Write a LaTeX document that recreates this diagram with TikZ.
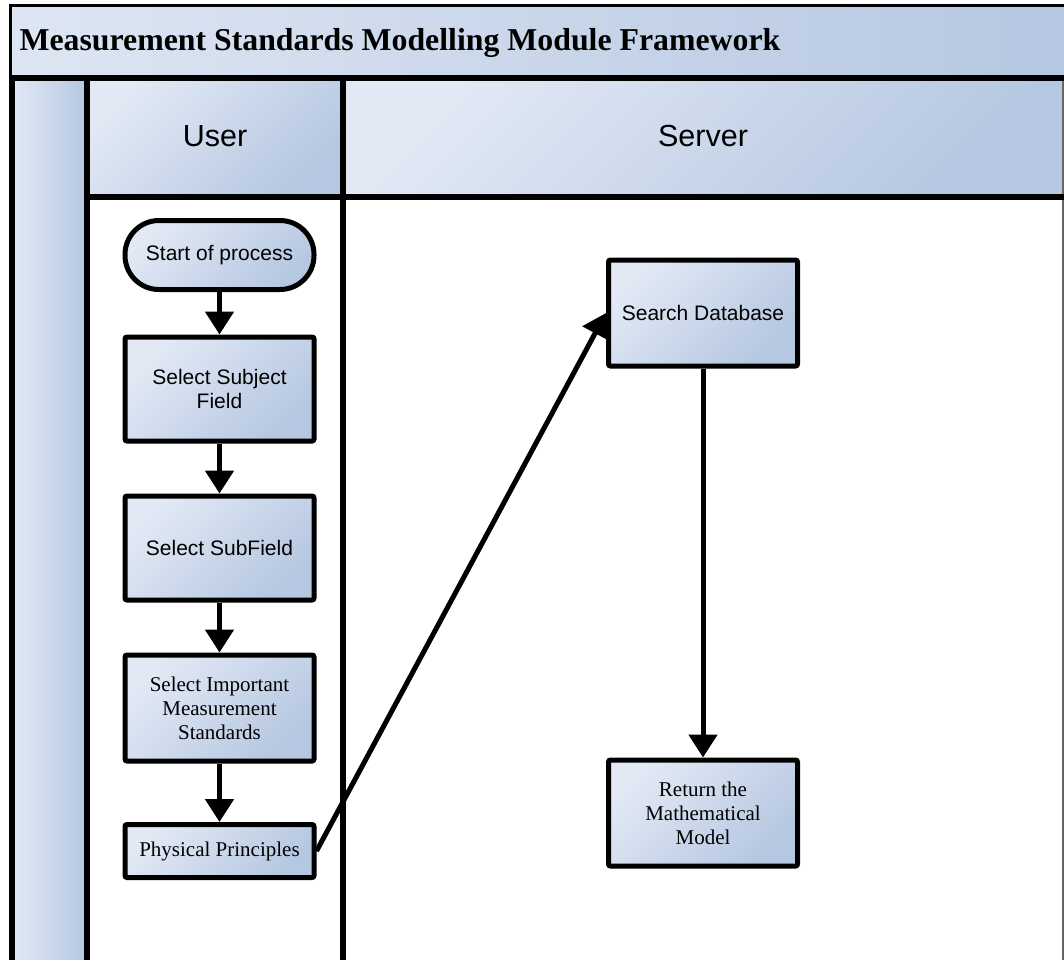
\documentclass[tikz,border=0pt]{standalone}
\usepackage{fontspec}
\setmainfont{Liberation Serif}
\setsansfont{Liberation Sans}
\usetikzlibrary{arrows.meta}
\definecolor{lite}{HTML}{E2E9F5}
\definecolor{dark}{HTML}{B5C7E1}
\begin{document}
\begin{tikzpicture}[x=1pt,y=-1pt,
  grad/.style={top color=lite,bottom color=dark,shading angle=45},
  box/.style={draw=black,line width=5pt,grad,rounded corners=2pt,minimum width=189pt,minimum height=104pt,align=center,inner sep=4pt},
  sanslbl/.style={font=\fontsize{21}{24}\selectfont\sffamily},
  seriflbl/.style={font=\fontsize{21}{24}\selectfont\rmfamily},
  hdr/.style={font=\fontsize{30.5}{34}\selectfont\sffamily},
  arr/.style={line width=5pt,-{Triangle[length=23pt,width=28pt]}},
  lane/.style={line width=5.5pt}
]
\useasboundingbox (0,0) rectangle (1064,959);
\clip (0,0) rectangle (1064,959);
% title band
\shade[left color=lite!90!dark,right color=dark] (10,5) rectangle (1070,78);
\draw[line width=3pt] (10,78) -- (10,5) -- (1070,5);
\node[anchor=west,font=\fontsize{31.8}{36}\selectfont\rmfamily\bfseries] (title) at (16,43) {Measurement Standards Modelling Module Framework};
% lanes
\shade[left color=lite,right color=dark] (12,78) rectangle (87,965);
\shade[grad] (87,78) rectangle (343,197);
\shade[grad] (343,78) rectangle (1063,197);
\draw[line width=1.5pt,black!60] (1063,78) -- (1063,965);
\draw[lane] (10,78) -- (1066,78);
\draw[lane] (12,78) -- (12,965);
\draw[lane] (87,78) -- (87,965);
\draw[lane] (343,78) -- (343,965);
\draw[lane] (87,197) -- (1066,197);
\node[hdr] (user) at (215,136) {User};
\node[hdr] (server) at (703,136) {Server};
% nodes
\node[box,sanslbl,minimum height=69pt,rounded corners=34pt] (start) at (219.5,255) {Start of process};
\node[box,sanslbl] (subj) at (219.5,389) {Select Subject\\Field};
\node[box,sanslbl] (subf) at (219.5,548) {Select SubField};
\node[box,seriflbl,minimum height=106pt] (imp) at (219.5,708) {Select Important\\Measurement\\Standards};
\node[box,seriflbl,minimum height=53pt] (phys) at (219.5,851) {Physical Principles};
\node[box,sanslbl,minimum height=106pt] (search) at (703,313) {Search Database};
\node[box,seriflbl,minimum height=106pt] (ret) at (703,813) {Return the\\Mathematical\\Model};
% connectors
\draw[arr] (start) -- (subj);
\draw[arr] (subj) -- (subf);
\draw[arr] (subf) -- (imp);
\draw[arr] (imp) -- (phys);
\draw[arr] (phys.east) -- (search.west);
\draw[arr] (search) -- (ret);
\end{tikzpicture}
\end{document}
